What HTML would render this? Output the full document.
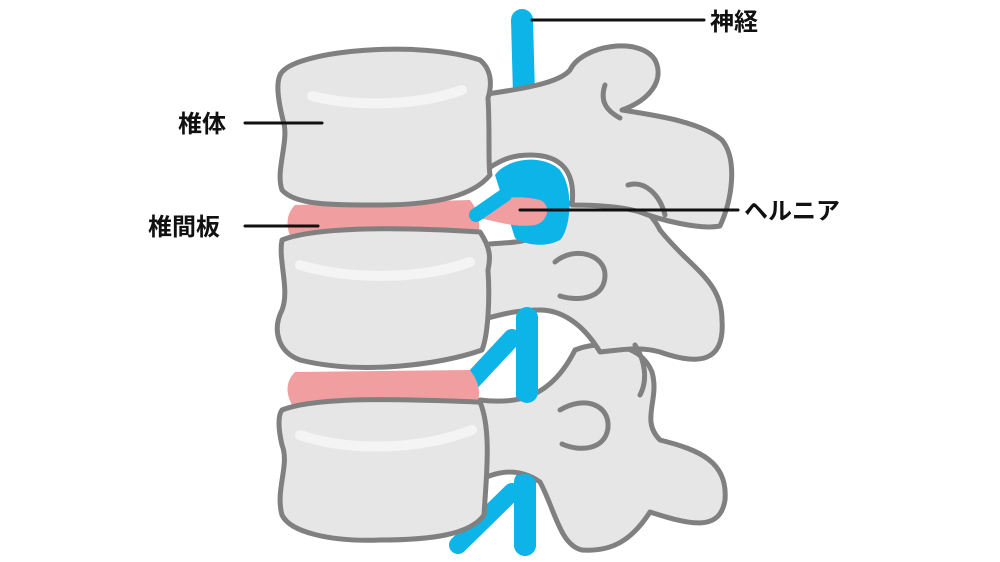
<!DOCTYPE html>
<html><head><meta charset="utf-8"><style>
html,body{margin:0;padding:0;background:#fff;width:1000px;height:562px;overflow:hidden}
svg{display:block}
text{font-family:"Liberation Sans","Noto Sans CJK JP",sans-serif;font-weight:bold;font-size:24px;fill:#111}
</style></head><body>
<svg width="1000" height="562" viewBox="0 0 1000 562">
<g stroke-linecap="round" stroke-linejoin="round">
<line x1="522" y1="20" x2="524" y2="95" stroke="#0db4e8" stroke-width="22"/>
<!-- nerves behind posterior elements -->
<line x1="527" y1="318" x2="527" y2="395" stroke="#0db4e8" stroke-width="22"/>
<line x1="525" y1="482" x2="525" y2="545" stroke="#0db4e8" stroke-width="22"/>
<g fill="#e6e6e6" stroke="#808080" stroke-width="5">
<path d="M480,400 C520,405 552,396 575,350 C600,340 640,342 652,372 C660,400 640,420 660,440 C700,450 728,462 725,500 C720,532 690,525 650,512 C632,540 612,552 582,550 C560,545 555,510 540,482 C520,468 500,470 480,480 Z"/>
<path d="M480,245 C515,240 540,250 560,205 C600,198 640,190 660,230 C690,268 722,280 722,320 C725,362 700,366 660,352 C640,346 620,350 600,352 C582,322 560,310 540,310 C515,310 500,315 480,320 Z"/>
<path d="M480,95 C530,88 560,82 570,70 C582,45 640,36 655,60 C665,80 650,100 622,110 C660,116 700,122 722,140 C738,160 732,200 720,226 C700,230 660,220 640,212 C620,206 590,205 572,205 C576,170 560,155 530,155 C505,155 495,165 482,172 Z"/>
</g>
<g fill="none" stroke="#808080" stroke-width="5">
<path d="M555,262 C575,245 605,255 605,275 C605,298 580,302 560,296"/>
<path d="M560,410 C585,395 610,405 608,428 C605,450 580,452 562,444"/>
<path d="M628,185 C645,180 660,195 665,215"/>
<path d="M635,345 C645,360 648,380 640,395"/>
<path d="M620,118 C605,110 600,100 605,85"/>
</g>
<line x1="527" y1="318" x2="527" y2="392" stroke="#0db4e8" stroke-width="22"/>
<line x1="525" y1="485" x2="525" y2="545" stroke="#0db4e8" stroke-width="22"/>
<path d="M495,175 C505,160 540,152 560,170 C575,190 570,230 560,240 C545,248 525,245 515,238" fill="#0db4e8"/>
<line x1="470" y1="383" x2="512" y2="338" stroke="#0db4e8" stroke-width="18"/>
<line x1="458" y1="545" x2="512" y2="492" stroke="#0db4e8" stroke-width="18"/>
<!-- discs -->
<path d="M295,205 L470,200 C482,215 482,235 472,246 C420,250 340,252 295,245 C285,230 285,215 295,205 Z" fill="#f09ea0"/>
<path d="M295,372 L470,370 C482,385 482,402 470,412 C420,418 340,420 295,410 C285,395 285,382 295,372 Z" fill="#f09ea0"/>
<path d="M470,215 C490,195 520,195 540,200 C552,205 548,222 535,225 C515,228 500,222 478,218 Z" fill="#f09ea0"/>
<line x1="476" y1="215" x2="505" y2="195" stroke="#0db4e8" stroke-width="14"/>
<!-- bodies -->
<g fill="#e6e6e6" stroke="#808080" stroke-width="5">
<path d="M282,72 C300,50 420,40 480,60 C492,70 492,85 488,98 C490,130 488,165 490,175 C470,200 420,205 380,205 C330,205 295,205 282,190 C275,170 290,140 283,120 C278,100 275,80 282,72 Z"/>
<path d="M282,240 C320,225 420,228 480,232 C492,250 490,260 488,270 C490,300 488,335 482,350 C440,365 360,375 300,360 C278,352 272,330 282,310 C290,290 278,260 282,240 Z"/>
<path d="M282,410 C320,395 420,400 480,402 C492,430 486,480 484,515 C470,535 430,540 380,540 C330,542 290,532 282,515 C275,490 290,465 282,445 C278,428 278,415 282,410 Z"/>
</g>
<g stroke="#f4f4f4" stroke-width="10" fill="none">
<path d="M312,96 C360,108 420,105 462,90"/>
<path d="M300,265 C350,280 420,280 470,262"/>
<path d="M300,435 C350,452 420,450 472,430"/>
</g>
<g stroke="#111" stroke-width="3">
<line x1="532" y1="20" x2="704" y2="20"/>
<line x1="245" y1="123" x2="322" y2="123"/>
<line x1="245" y1="226" x2="318" y2="226"/>
<line x1="520" y1="210" x2="738" y2="210"/>
</g>
</g>
<text x="710" y="30">神経</text>
<text x="178" y="132">椎体</text>
<text x="148" y="235">椎間板</text>
<text x="744" y="219">ヘルニア</text>
</svg>
</body></html>
